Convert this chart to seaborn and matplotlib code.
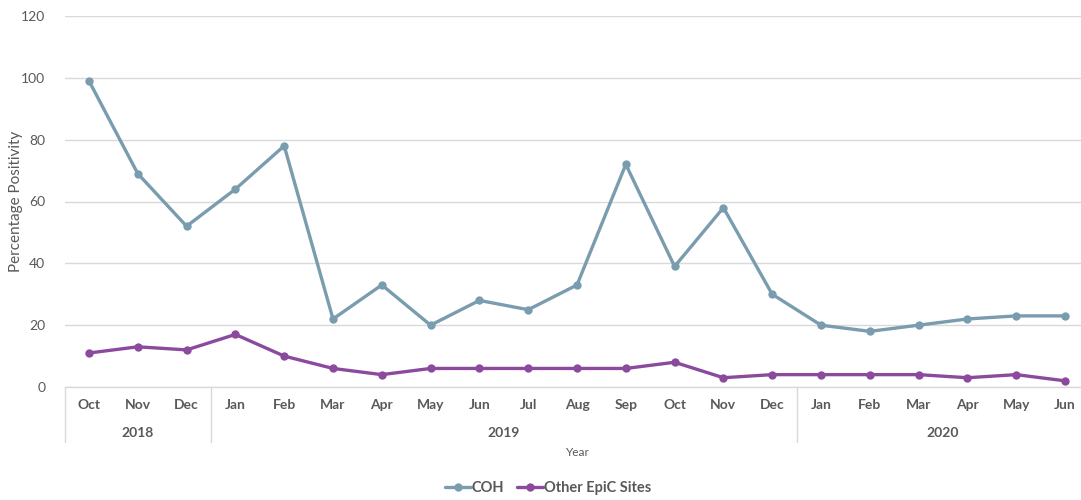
import numpy as np
import pandas as pd
import matplotlib
matplotlib.use("Agg")
import matplotlib.pyplot as plt
import matplotlib.transforms as mtransforms
from matplotlib.lines import Line2D
import seaborn as sns

months = ["Oct", "Nov", "Dec", "Jan", "Feb", "Mar", "Apr", "May", "Jun", "Jul", "Aug",
          "Sep", "Oct", "Nov", "Dec", "Jan", "Feb", "Mar", "Apr", "May", "Jun"]
years = ["2018", "2019", "2020"]
year_counts = [3, 12, 6]
coh = [99, 69, 52, 64, 78, 22, 33, 20, 28, 25, 33, 72, 39, 58, 30, 20, 18, 20, 22, 23, 23]
other = [11, 13, 12, 17, 10, 6, 4, 6, 6, 6, 6, 6, 8, 3, 4, 4, 4, 4, 3, 4, 2]
series_names = ["COH", "Other EpiC Sites"]
colors = ["#7A9CAF", "#8B4A9E"]

sns.set_theme(style="white")
plt.rcParams["font.family"] = ["Lato", "DejaVu Sans"]

n = len(months)
df = pd.DataFrame({
    "idx": list(range(n)) * 2,
    "value": coh + other,
    "series": [series_names[0]] * n + [series_names[1]] * n,
})

fig = plt.figure(figsize=(10.81, 5.0), dpi=100)
W, H = 1081, 500
left_px, right_px = 64.6, 1089.4
top_px, bot_px = 16, 387
ax = fig.add_axes([left_px / W, 1 - bot_px / H, (right_px - left_px) / W, (bot_px - top_px) / H])

sns.lineplot(data=df, x="idx", y="value", hue="series", palette=colors, marker="o",
             markersize=6, markeredgewidth=0, linewidth=2.4, ax=ax, legend=False)

ax.set_xlim(-0.5, n - 0.5)
ax.set_ylim(0, 120)
ax.set_yticks(range(0, 121, 20))
ax.yaxis.grid(True, color="#D9D9D9", linewidth=1)
ax.set_axisbelow(True)
for s in ["top", "right", "left"]:
    ax.spines[s].set_visible(False)
ax.spines["bottom"].set_color("#D9D9D9")
ax.spines["bottom"].set_linewidth(1)
ax.tick_params(axis="y", length=0, labelsize=10, labelcolor="#595959", pad=14)
ax.set_xticks([])
ax.set_xlabel("")
ax.set_ylabel("")

trans = mtransforms.blended_transform_factory(ax.transData, fig.transFigure)
def fy(px):
    return 1 - px / H

fig.text(16 / W, fy(201), "Percentage Positivity", rotation=90, ha="center", va="center",
         fontsize=11, color="#595959")

for i, m in enumerate(months):
    ax.text(i, fy(405), m, transform=trans, ha="center", va="center",
            fontsize=10, fontweight="bold", color="#595959")

start = 0
bounds = [-0.5]
for y, c in zip(years, year_counts):
    center = start + (c - 1) / 2
    ax.text(center, fy(433), y, transform=trans, ha="center", va="center",
            fontsize=10, fontweight="bold", color="#595959")
    start += c
    bounds.append(start - 0.5)

for b in bounds[:-1]:
    ax.add_line(Line2D([b, b], [fy(387), fy(442)], transform=trans, color="#D9D9D9",
                       linewidth=1, clip_on=False))

fig.text((W / 2 + 37) / W, fy(452), "Year", ha="center", va="center", fontsize=8.5, color="#595959")

handles = [Line2D([0], [0], color=c, marker="o", markersize=6, markeredgewidth=0, linewidth=2.4)
           for c in colors]
leg = fig.legend(handles, series_names, loc="center", bbox_to_anchor=(548 / W, fy(488)), ncol=2,
                 frameon=False, handlelength=1.8, handletextpad=0.05, columnspacing=0.9,
                 prop={"size": 10.5, "weight": "bold"})
for t in leg.get_texts():
    t.set_color("#595959")

fig.savefig("out.png", dpi=100)
